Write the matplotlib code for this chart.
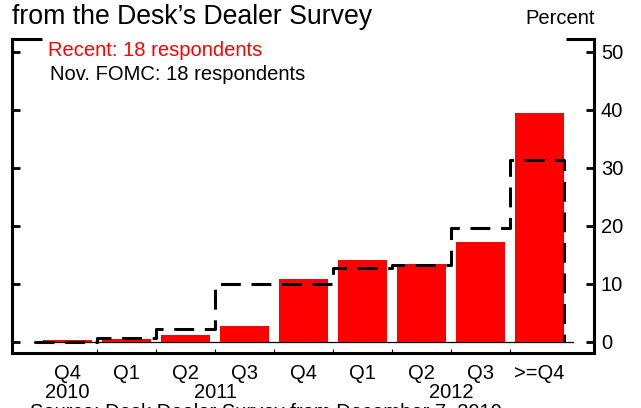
import matplotlib
matplotlib.use("Agg")
import matplotlib.pyplot as plt
import matplotlib.transforms as mtransforms
import numpy as np

plt.rcParams['font.family'] = ['Liberation Sans', 'DejaVu Sans']

quarters = ["Q4", "Q1", "Q2", "Q3", "Q4", "Q1", "Q2", "Q3", ">=Q4"]
years = ["2010", "2011", "2012"]
year_groups = [[0], [1, 2, 3, 4], [5, 6, 7, 8]]
recent = [0.3, 0.6, 1.2, 2.8, 10.9, 14.1, 13.4, 17.2, 39.5]
nov_fomc = [0.0, 0.7, 2.2, 10.0, 10.0, 12.7, 13.3, 19.7, 31.4]
yticks = [0, 10, 20, 30, 40, 50]

fig = plt.figure(figsize=(6.41, 4.08), dpi=100)
ax = fig.add_axes([12/641, 1-353/408, (594-12)/641, (353-39)/408])

n = len(quarters)
x = np.arange(n)
width = 0.83
ax.bar(x, recent, width=width, color="#FF0000", zorder=2)

# step line for Nov. FOMC
edges = np.arange(n + 1) - 0.5
edges[0] = -0.57
edges[-1] = (n - 1) + width / 2
sx = [edges[0]]
sy = [0]
for i in range(n):
    sx += [edges[i], edges[i + 1]]
    sy += [nov_fomc[i], nov_fomc[i]]
sx.append(edges[-1])
sy.append(0)
ax.plot(sx, sy, color="black", lw=2.2, ls=(0, (6.5, 3.5)), zorder=3)

ax.plot([-0.57, n - 1 + 0.57], [0, 0], color="black", lw=0.9, zorder=1)

ax.set_xlim(-0.94, 8.92)
ax.set_ylim(-1.9, 52.24)

# spines
for s in ["left", "right", "bottom"]:
    ax.spines[s].set_linewidth(2.2)
ax.spines["top"].set_visible(False)
ax.plot([0, 30/582], [1, 1], transform=ax.transAxes, color="black", lw=2.2,
        clip_on=False, solid_capstyle="butt")
ax.plot([554/582, 1], [1, 1], transform=ax.transAxes, color="black", lw=2.2,
        clip_on=False, solid_capstyle="butt")

fs = 14.5
ax.set_yticks(yticks)
ax.tick_params(axis="y", which="major", direction="in", left=True, right=True,
               labelleft=False, labelright=True, length=6, width=2,
               labelsize=fs, pad=5)

ax.set_xticks(x)
ax.set_xticklabels(quarters)
ax.tick_params(axis="x", which="major", length=0, labelsize=fs, pad=8)
ax.set_xticks(edges[1:-1], minor=True)
ax.tick_params(axis="x", which="minor", direction="in", length=3, width=0.8)

trans = mtransforms.blended_transform_factory(ax.transData, fig.transFigure)
for yr, grp in zip(years, year_groups):
    ax.text(np.mean(grp), 1 - 392/408, yr, transform=trans, ha="center",
            va="center", fontsize=fs)

fig.text(12/641, 1 - 17.5/408, "from the Desk\u2019s Dealer Survey", fontsize=19.2,
         ha="left", va="center")
fig.text(560/641, 1 - 18/408, "Percent", fontsize=fs, ha="center", va="center")
ax.text(48/641, 1 - 50/408, "Recent: 18 respondents", color="#FF0000",
        fontsize=fs, transform=fig.transFigure, ha="left", va="center")
ax.text(50/641, 1 - 74/408, "Nov. FOMC: 18 respondents", color="black",
        fontsize=fs, transform=fig.transFigure, ha="left", va="center")
fig.text(30/641, 1 - 413/408, "Source: Desk Dealer Survey from December 7, 2010",
         fontsize=fs, ha="left", va="center")

fig.savefig("out.png", dpi=100)
